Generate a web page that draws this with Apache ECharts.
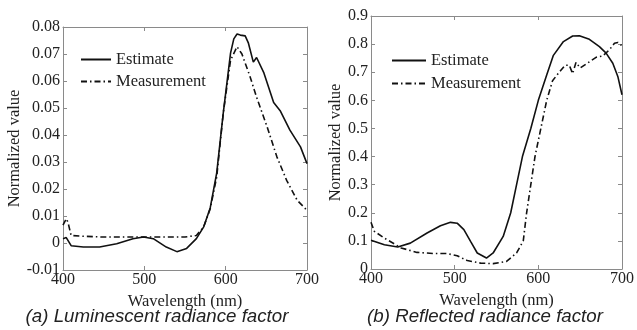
<!DOCTYPE html>
<html>
<head>
<meta charset="utf-8">
<script src="https://cdn.jsdelivr.net/npm/echarts@6/dist/echarts.min.js"></script>
<style>
  html, body { margin: 0; padding: 0; background: #fff; }
  #chart { width: 637px; height: 330px; }
</style>
</head>
<body>
<div id="chart"></div>
<script>
// (a) luminescent radiance factor
const lumEstWl = [400, 404, 410, 425, 445, 466, 486, 499, 511, 527, 540, 552, 564, 573, 581, 589, 597, 606, 610, 614, 618, 624, 628, 634, 638, 647, 659, 667, 679, 692, 700]
const lumEst = [0.0016, 0.002, -0.001, -0.0015, -0.0015, -0.0003, 0.0016, 0.0022, 0.0016, -0.0015, -0.0032, -0.002, 0.0016, 0.006, 0.013, 0.026, 0.048, 0.0703, 0.0756, 0.0774, 0.077, 0.0767, 0.074, 0.067, 0.0687, 0.063, 0.052, 0.049, 0.0418, 0.0356, 0.0294]
const lumMeasWl = [400, 404, 406, 410, 425, 450, 500, 550, 564, 573, 581, 589, 597, 606, 614, 620, 630, 638, 651, 663, 675, 688, 700]
const lumMeas = [0.0066, 0.009, 0.0078, 0.0028, 0.0025, 0.0022, 0.0022, 0.0022, 0.0028, 0.006, 0.0127, 0.0245, 0.048, 0.0677, 0.0727, 0.07, 0.0616, 0.054, 0.043, 0.0319, 0.0232, 0.0158, 0.0121]

// (b) reflected radiance factor
const refEstWl = [400, 416, 432, 447, 467, 483, 495, 503, 511, 519, 527, 538, 546, 558, 567, 574, 581, 591, 600, 610, 618, 630, 641, 649, 661, 673, 681, 689, 695, 700]
const refEst = [0.102, 0.086, 0.078, 0.092, 0.128, 0.154, 0.166, 0.163, 0.14, 0.098, 0.057, 0.039, 0.057, 0.116, 0.2, 0.3, 0.4, 0.5, 0.6, 0.69, 0.76, 0.809, 0.829, 0.83, 0.817, 0.791, 0.768, 0.732, 0.685, 0.62]
const refMeasWl = [400, 404, 416, 436, 455, 475, 491, 503, 515, 531, 546, 562, 574, 582, 586, 591, 596, 603, 610, 617, 625, 632, 637, 641, 645, 650, 660, 669, 677, 685, 691, 695, 700]
const refMeas = [0.166, 0.134, 0.11, 0.075, 0.059, 0.055, 0.055, 0.047, 0.03, 0.021, 0.019, 0.027, 0.057, 0.1, 0.2, 0.3, 0.4, 0.5, 0.6, 0.67, 0.7, 0.725, 0.725, 0.695, 0.735, 0.715, 0.735, 0.753, 0.758, 0.78, 0.803, 0.806, 0.794]

const xTicks = { min: 400, max: 700, interval: 100 }
const lumTicks = { min: -0.01, max: 0.08, interval: 0.01 }
const refTicks = { min: 0, max: 0.9, interval: 0.1 }

const pairs = (xs, ys) => xs.map((x, i) => [x, ys[i]])

const serif = 'Liberation Serif'
const frame = '#8a8a8a'
const fmt = v => (Math.abs(v) < 1e-9 ? '0' : String(+v.toFixed(2)))

const solid = { color: '#111', width: 1.6, type: 'solid' }
const dashDot = { color: '#111', width: 1.6, type: [6, 3, 1.5, 3] }

function xAxes(gridIndex) {
  return [
    {
      gridIndex, type: 'value', ...xTicks,
      name: 'Wavelength (nm)', nameLocation: 'middle', nameGap: 17,
      nameTextStyle: { fontFamily: serif, fontSize: 16.5, color: '#222' },
      axisLine: { onZero: false, lineStyle: { color: frame } },
      axisTick: { inside: true, length: 4, lineStyle: { color: frame } },
      axisLabel: { fontFamily: serif, fontSize: 16, color: '#222', margin: 2 },
      splitLine: { show: false },
    },
    {
      gridIndex, type: 'value', ...xTicks, position: 'top',
      axisLine: { onZero: false, lineStyle: { color: frame } },
      axisTick: { inside: true, length: 4, lineStyle: { color: frame } },
      axisLabel: { show: false },
      splitLine: { show: false },
    },
  ]
}

function yAxes(gridIndex, ticks, gap) {
  return [
    {
      gridIndex, type: 'value', ...ticks,
      name: 'Normalized value', nameLocation: 'middle', nameGap: gap,
      nameTextStyle: { fontFamily: serif, fontSize: 16.5, color: '#222' },
      axisLine: { onZero: false, lineStyle: { color: frame } },
      axisTick: { inside: true, length: 4, lineStyle: { color: frame } },
      axisLabel: { fontFamily: serif, fontSize: 16, color: '#222', margin: 3, formatter: fmt },
      splitLine: { show: false },
    },
    {
      gridIndex, type: 'value', ...ticks, position: 'right',
      axisLine: { onZero: false, lineStyle: { color: frame } },
      axisTick: { inside: true, length: 4, lineStyle: { color: frame } },
      axisLabel: { show: false },
      splitLine: { show: false },
    },
  ]
}

function legend(names, left, top, width, gap) {
  return {
    show: true,
    data: names,
    orient: 'vertical',
    left, top,
    itemWidth: width, itemHeight: 14, itemGap: gap,
    itemStyle: { opacity: 0 },
    textStyle: { fontFamily: serif, fontSize: 16.5, color: '#222' },
  }
}

const caption = { fontFamily: 'Liberation Sans', fontStyle: 'italic', fontWeight: 'normal', fontSize: 18.7, color: '#222' }

const chart = echarts.init(document.getElementById('chart'))
chart.setOption({
  animation: false,
  grid: [
    { left: 63, top: 27, width: 244, height: 243 },
    { left: 371, top: 16, width: 253, height: 253 },
  ],
  xAxis: [...xAxes(0), ...xAxes(1)],
  yAxis: [...yAxes(0, lumTicks, 33), ...yAxes(1, refTicks, 27)],
  legend: [
    legend(['Estimate', 'Measurement'], 75, 46, 30, 5),
    legend(['Estimate ', 'Measurement '], 386, 47, 34, 6),
  ],
  title: [
    { text: '(a) Luminescent radiance factor', left: 152, top: 302, textAlign: 'center', textStyle: caption },
    { text: '(b) Reflected radiance factor', left: 480, top: 302, textAlign: 'center', textStyle: caption },
  ],
  series: [
    { name: 'Estimate', type: 'line', xAxisIndex: 0, yAxisIndex: 0, data: pairs(lumEstWl, lumEst), symbol: 'none', lineStyle: solid, itemStyle: { color: '#111' } },
    { name: 'Measurement', type: 'line', xAxisIndex: 0, yAxisIndex: 0, data: pairs(lumMeasWl, lumMeas), symbol: 'none', lineStyle: dashDot, itemStyle: { color: '#111' } },
    { name: 'Estimate ', type: 'line', xAxisIndex: 2, yAxisIndex: 2, data: pairs(refEstWl, refEst), symbol: 'none', lineStyle: solid, itemStyle: { color: '#111' } },
    { name: 'Measurement ', type: 'line', xAxisIndex: 2, yAxisIndex: 2, data: pairs(refMeasWl, refMeas), symbol: 'none', lineStyle: dashDot, itemStyle: { color: '#111' } },
  ],
})
</script>
</body>
</html>
